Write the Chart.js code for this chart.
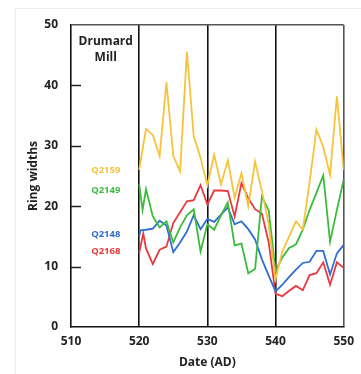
<!DOCTYPE html>
<html><head><meta charset="utf-8">
<script src="https://cdn.jsdelivr.net/npm/chart.js@4/dist/chart.umd.min.js"></script>
<style>
html,body{margin:0;padding:0;background:#fff;}
#wrap{position:relative;width:361px;height:374px;overflow:hidden;}
#frame{position:absolute;left:15px;top:8px;width:360px;height:380px;border-left:1px solid #ececec;border-top:1px solid #ececec;}
canvas{position:absolute;left:0;top:0;}
</style></head>
<body><div id="wrap"><div id="frame"></div><canvas id="c" width="361" height="374"></canvas></div>
<script>
// ---- data ----
const xTicks = [510, 520, 530, 540, 550];
const yTicks = [0, 10, 20, 30, 40, 50];
const dividerYears = [520, 530, 540];

const q2159Years = [520,521,522,523,524,525,526,527,528,529,530,531,532,533,534,535,536,537,538,539,540,541,542,543,544,545,546,547,548,549,550];
const q2159 = [26,32.8,31.8,28.3,40.5,28.3,25.8,45.6,31.6,28,23.5,28.5,23.6,27.6,21.4,25.5,20,27.4,22.5,17,7.9,12.5,15,17.5,16.1,24,32.7,29.8,25.2,38.2,26];

const q2149Years = [520,520.5,521,522,523,524,525,526,527,528,529,530,531,532,533,534,535,536,537,538,539,540,541,542,543,544,545,546,547,548,549,550];
const q2149 = [23.6,19.4,22.8,18.3,16.5,17.5,14,16.5,18.5,19.5,12.5,17,16.1,18.5,20.6,13.5,13.8,8.9,9.6,21.6,19.3,9.3,11.5,13.1,13.7,16.1,19.4,22.2,25.1,14.1,19.4,24.4];

const q2148Years = [520,520.2,521,522,523,524,525,526,527,528,529,530,531,532,533,534,535,536,537,538,539,540,541,542,543,544,545,546,547,548,549,550];
const q2148 = [15,16,16.1,16.3,17.6,16.8,12.4,14,15.8,18.5,16.2,17.9,17.4,18.6,19.8,17,17.5,16.2,14.5,11.2,8.5,5.9,7,8.3,9.5,10.6,10.8,12.6,12.6,8.7,12.2,13.6];

const q2168Years = [520,520.6,521,522,523,524,525,526,527,528,529,530,531,532,533,534,535,536,537,538,539,540,541,542,543,544,545,546,547,548,549,550];
const q2168 = [12.3,15.5,13,10.4,12.8,13.3,17.2,19,20.8,21,23.5,20.3,22.6,22.6,22.5,18.3,23.8,21.3,19.5,18.8,14,5.5,5.1,6,6.8,6.1,8.6,8.9,10.7,7,10.7,9.8];

const seriesNames = ['Q2159','Q2149','Q2148','Q2168'];
const seriesColors = ['#f6c33a','#3cbc3c','#2f6ed2','#e8393f'];
// label anchor positions in data units (year, value)
const labelX = [515.1, 515.1, 515.1, 515.1];
const labelY = [26.0, 22.6, 15.4, 12.5];
const siteName = ['Drumard', 'Mill'];
const siteY = [47.2, 44.6];

const toPts = (xs, ys) => xs.map((v, i) => ({x: v, y: ys[i]}));
const allYears = [q2159Years, q2149Years, q2148Years, q2168Years];
const allVals = [q2159, q2149, q2148, q2168];

const FONT = '"Open Sans", "Liberation Sans", sans-serif';

const decor = {
  id: 'decor',
  afterDraw(chart) {
    const {ctx, scales: {x, y}} = chart;
    ctx.save();
    // inward y tick marks
    ctx.strokeStyle = '#222';
    ctx.lineWidth = 1.5;
    yTicks.forEach(v => {
      if (v === 0 || v === 50) return;
      const py = Math.round(y.getPixelForValue(v)) + 0.5;
      ctx.beginPath();
      ctx.moveTo(x.left, py);
      ctx.lineTo(x.left + 10, py);
      ctx.stroke();
    });
    // site name
    ctx.fillStyle = '#222';
    ctx.textAlign = 'center';
    ctx.textBaseline = 'middle';
    ctx.font = 'bold 12px ' + FONT;
    siteName.forEach((t, i) => ctx.fillText(t, x.getPixelForValue(labelX[0]), y.getPixelForValue(siteY[i])));
    // series labels
    ctx.font = 'bold 9.5px ' + FONT;
    seriesNames.forEach((t, i) => {
      ctx.fillStyle = seriesColors[i];
      ctx.fillText(t, x.getPixelForValue(labelX[i]), y.getPixelForValue(labelY[i]));
    });
    ctx.restore();
  }
};

new Chart(document.getElementById('c'), {
  type: 'line',
  data: {
    datasets: seriesNames.map((n, i) => ({
      label: n,
      data: toPts(allYears[i], allVals[i]),
      borderColor: seriesColors[i],
      backgroundColor: seriesColors[i],
      borderWidth: 1.8,
      pointRadius: 0,
      tension: 0,
      fill: false
    }))
  },
  options: {
    responsive: false,
    animation: false,
    layout: {padding: {left: 0, top: 25, right: 11, bottom: 0}},
    plugins: {legend: {display: false}, tooltip: {enabled: false}},
    scales: {
      x: {
        type: 'linear',
        min: 510, max: 550,
        afterBuildTicks: s => { s.ticks = xTicks.map(v => ({value: v})); },
        afterFit: s => { s.height = 47; },
        border: {display: true, color: '#111', width: 1.6},
        grid: {
          drawTicks: false,
          lineWidth: 1.6,
          color: c => dividerYears.includes(c.tick.value) ? '#111' : (c.tick.value === 550 ? '#555' : 'rgba(0,0,0,0)')
        },
        ticks: {padding: 7, color: '#222', font: {family: FONT, size: 12, weight: 'bold'}},
        title: {display: true, text: 'Date (AD)', color: '#222', padding: {top: 0, bottom: 4}, font: {family: FONT, size: 12, weight: 'bold'}}
      },
      y: {
        min: 0, max: 50,
        afterBuildTicks: s => { s.ticks = yTicks.map(v => ({value: v})); },
        afterFit: s => { s.width = 71; },
        border: {display: true, color: '#111', width: 1.6},
        grid: {
          drawTicks: false,
          lineWidth: 1.4,
          color: c => c.tick.value === 50 ? '#555' : 'rgba(0,0,0,0)'
        },
        ticks: {padding: 13, color: '#222', font: {family: FONT, size: 12, weight: 'bold'}},
        title: {display: true, text: 'Ring widths', color: '#222', padding: {top: 26, bottom: 0}, font: {family: FONT, size: 12, weight: 'bold'}}
      }
    }
  },
  plugins: [decor]
});
</script>
</body></html>
